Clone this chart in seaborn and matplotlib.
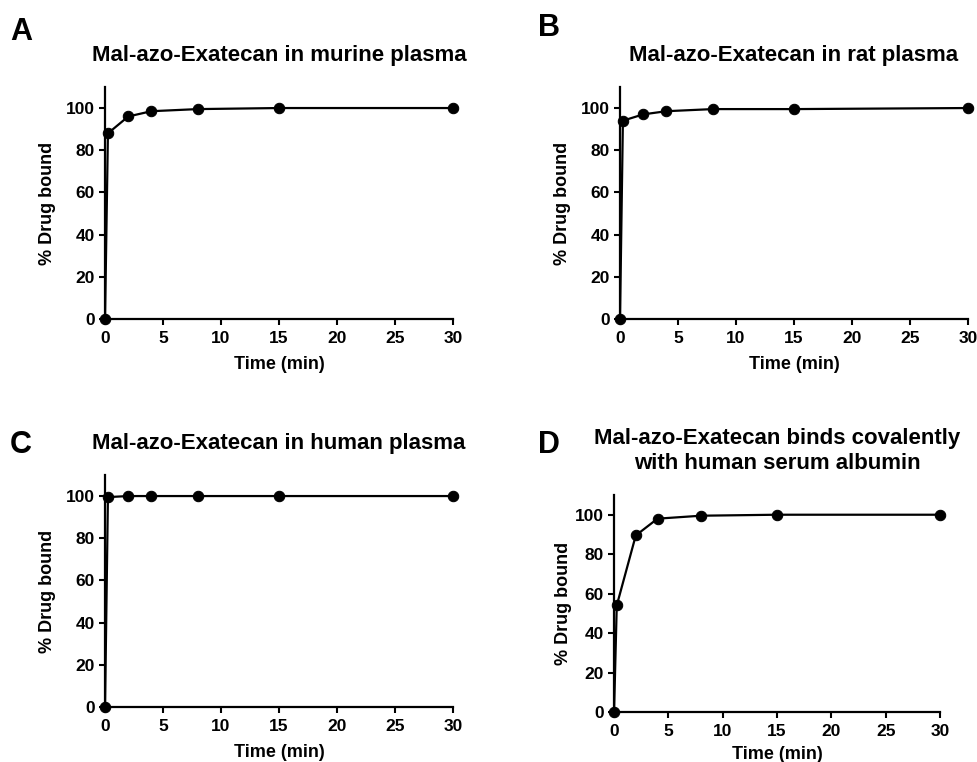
import pandas as pd
import matplotlib.pyplot as plt
import seaborn as sns

# Time points (min) and % drug bound per panel
time_min = [0, 0.25, 2, 4, 8, 15, 30]
murine = [0, 88, 96, 98.5, 99.5, 100, 100]
rat = [0, 94, 97, 98.5, 99.5, 99.5, 100]
human = [0, 99.5, 100, 100, 100, 100, 100]
hsa = [0, 54, 89.5, 98, 99.5, 100, 100]

panel_letters = ["A", "B", "C", "D"]
panel_titles = [
    "Mal-azo-Exatecan in murine plasma",
    "Mal-azo-Exatecan in rat plasma",
    "Mal-azo-Exatecan in human plasma",
    "Mal-azo-Exatecan binds covalently\nwith human serum albumin",
]
x_ticks = [0, 5, 10, 15, 20, 25, 30]
y_ticks = [0, 20, 40, 60, 80, 100]

sns.set_style("ticks")
plt.rcParams["font.family"] = ["Liberation Sans", "DejaVu Sans"]
plt.rcParams["font.weight"] = "bold"
plt.rcParams["axes.labelweight"] = "bold"
plt.rcParams["axes.titleweight"] = "bold"
for key in ["text.color", "axes.labelcolor", "xtick.color", "ytick.color", "axes.edgecolor"]:
    plt.rcParams[key] = "black"

fig = plt.figure(figsize=(9.77, 7.62), dpi=100)

rects = [
    [0.1075, 0.5814, 0.3562, 0.3045],
    [0.6346, 0.5814, 0.3562, 0.3045],
    [0.1075, 0.0722, 0.3562, 0.3045],
    [0.6285, 0.0656, 0.3337, 0.2848],
]
letter_pos = [(0.010, 0.958), (0.551, 0.963), (0.010, 0.416), (0.551, 0.416)]

series = [murine, rat, human, hsa]

for i, vals in enumerate(series):
    ax = fig.add_axes(rects[i])
    df = pd.DataFrame({"time": time_min, "bound": vals})
    sns.lineplot(
        data=df, x="time", y="bound", ax=ax,
        color="black", linewidth=1.6,
        marker="o", markersize=7.5, markeredgecolor="black",
        clip_on=False, zorder=5,
    )
    ax.set_xlim(0, 30)
    ax.set_ylim(0, 110)
    ax.set_xticks(x_ticks)
    ax.set_yticks(y_ticks)
    ax.set_xlabel("Time (min)", fontsize=13, labelpad=7.5 if i < 3 else 5)
    ax.set_ylabel("% Drug bound", fontsize=13, labelpad=7 if i < 3 else 2)
    ax.set_title(panel_titles[i], fontsize=16, pad=19)
    for side in ["top", "right"]:
        ax.spines[side].set_visible(False)
    for side in ["left", "bottom"]:
        ax.spines[side].set_linewidth(1.6)
    ax.tick_params(direction="out", length=4, width=1.5, labelsize=12.5)
    ax.tick_params(axis="x", pad=4.5)
    ax.tick_params(axis="y", pad=3.5)
    for lbl in ax.get_xticklabels() + ax.get_yticklabels():
        lbl.set_fontweight("bold")
    fig.text(letter_pos[i][0], letter_pos[i][1], panel_letters[i],
             fontsize=22, fontweight="bold", va="center", ha="left")

plt.savefig("out.png", dpi=100)
